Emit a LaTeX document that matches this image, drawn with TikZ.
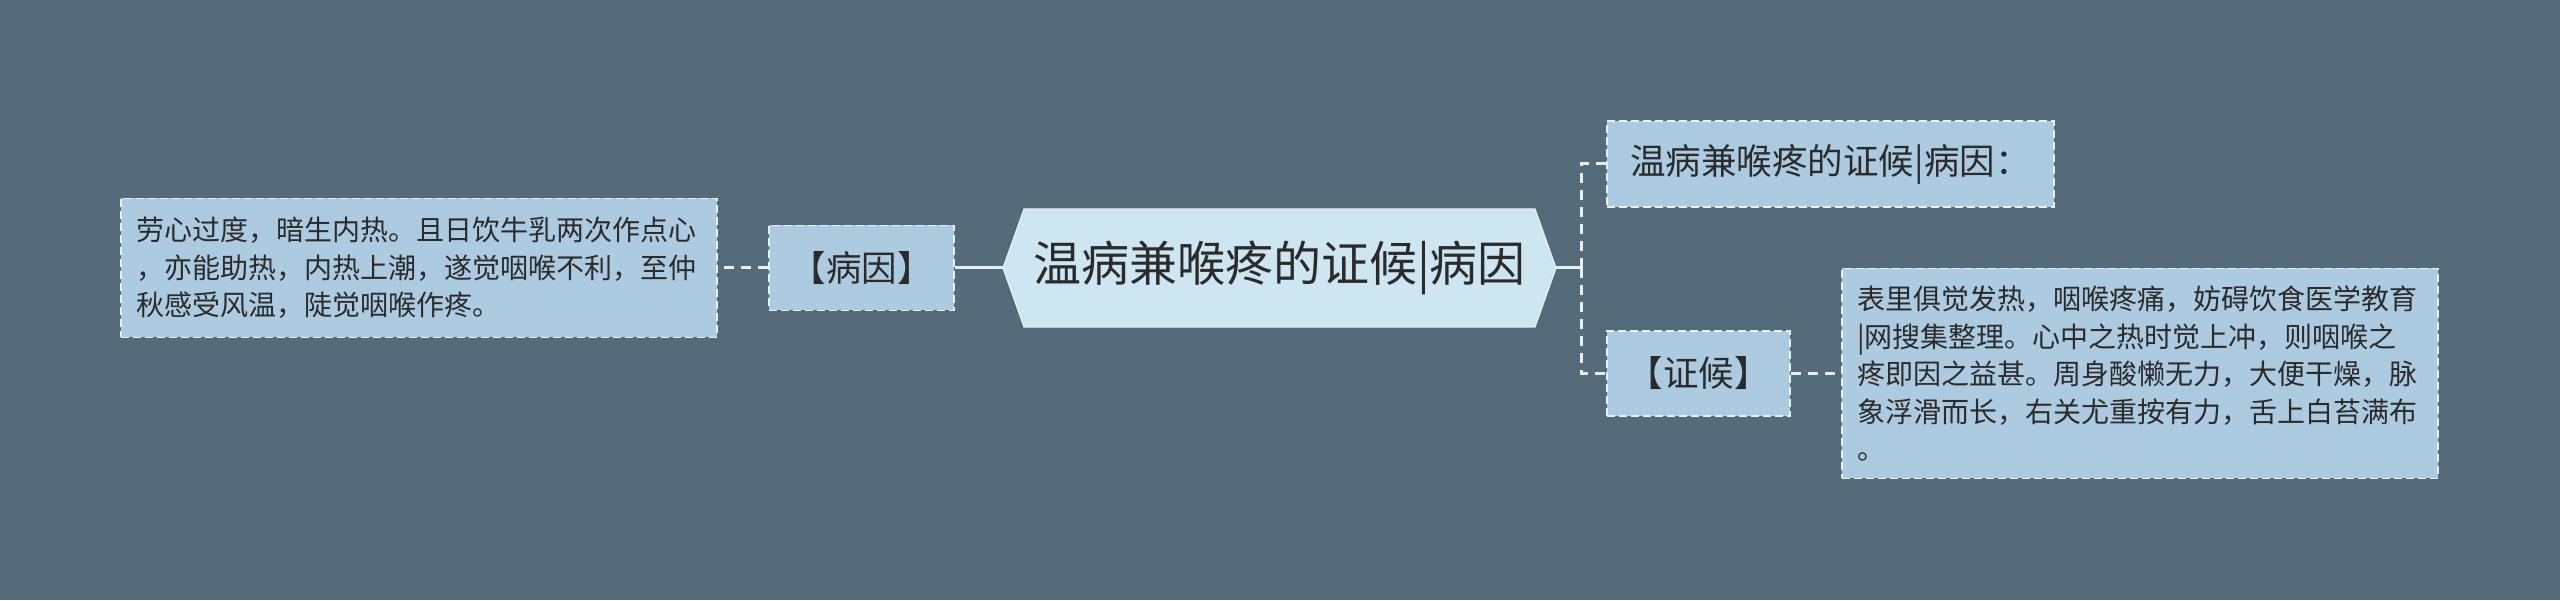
\documentclass[tikz,border=0pt]{standalone}
\usepackage{fontspec}
\setmainfont{Noto Sans CJK SC}
\usetikzlibrary{calc}
\definecolor{bgc}{HTML}{556B7A}
\definecolor{boxfill}{HTML}{ACCBE1}
\definecolor{hexfill}{HTML}{CEE5F2}
\definecolor{linec}{HTML}{E4F1F8}
\definecolor{txt}{HTML}{2B2B2B}
\tikzset{
  leafbox/.style={draw=linec, fill=boxfill, line width=1.6pt, dash pattern=on 8pt off 4pt,
    text=txt, inner sep=0pt},
  smalltext/.style={leafbox, font=\fontsize{28}{37.5}\selectfont, align=left, anchor=center},
  midbox/.style={leafbox, font=\fontsize{35.5}{40}\selectfont, align=center},
  solidlink/.style={draw=linec, line width=3pt},
  dashlink/.style={draw=linec, line width=3pt, dash pattern=on 10pt off 7pt},
}
\begin{document}
\begin{tikzpicture}[x=1pt,y=1pt]
\fill[bgc] (0,0) rectangle (2560,600);
\useasboundingbox (0,0) rectangle (2560,600);
% central hexagon
\coordinate (h1) at (1003,332);
\coordinate (h2) at (1024,391);
\coordinate (h3) at (1535,391);
\coordinate (h4) at (1556,332);
\coordinate (h5) at (1535,273);
\coordinate (h6) at (1024,273);
\fill[hexfill] (h1) -- (h2) -- (h3) -- (h4) -- (h5) -- (h6) -- cycle;
\draw[linec, line width=1.2pt] (h1) -- (h2) -- (h3) -- (h4) -- (h5) -- (h6) -- cycle;
\node[minimum width=553pt, minimum height=118pt, inner sep=0pt, text=txt,
  font=\fontsize{48}{54}\selectfont] (root) at (1279.5,332) {温病兼喉疼的证候|病因};
% left side
\node[midbox, minimum width=185pt, minimum height=85pt] (bingyin) at (861.5,332) {【病因】};
\node[smalltext, minimum width=596pt, minimum height=139pt, text width=566pt] (lefttext) at (419,332)
  {劳心过度，暗生内热。且日饮牛乳两次作点心\\，亦能助热，内热上潮，遂觉咽喉不利，至仲\\秋感受风温，陡觉咽喉作疼。};
% right side
\node[midbox, minimum width=447pt, minimum height=86pt] (topbox) at (1830.5,436) {温病兼喉疼的证候|病因：};
\node[midbox, minimum width=183pt, minimum height=85pt] (zhenghou) at (1698.5,226.5) {【证候】};
\node[smalltext, minimum width=596pt, minimum height=210pt, text width=566pt] (righttext) at (2140,226.5)
  {表里俱觉发热，咽喉疼痛，妨碍饮食医学教育\\|网搜集整理。心中之热时觉上冲，则咽喉之\\疼即因之益甚。周身酸懒无力，大便干燥，脉\\象浮滑而长，右关尤重按有力，舌上白苔满布\\。};
% connectors
\coordinate (jn) at (1581,332);
\draw[solidlink] (root.west) -- (bingyin.east);
\draw[dashlink] (bingyin.west) -- (lefttext.east);
\draw[solidlink] (root.east) -- (jn);
\draw[dashlink] (jn) |- (topbox.west);
\draw[dashlink] (jn) |- (zhenghou.west);
\draw[dashlink] (zhenghou.east) -- (righttext.west);
\end{tikzpicture}
\end{document}
